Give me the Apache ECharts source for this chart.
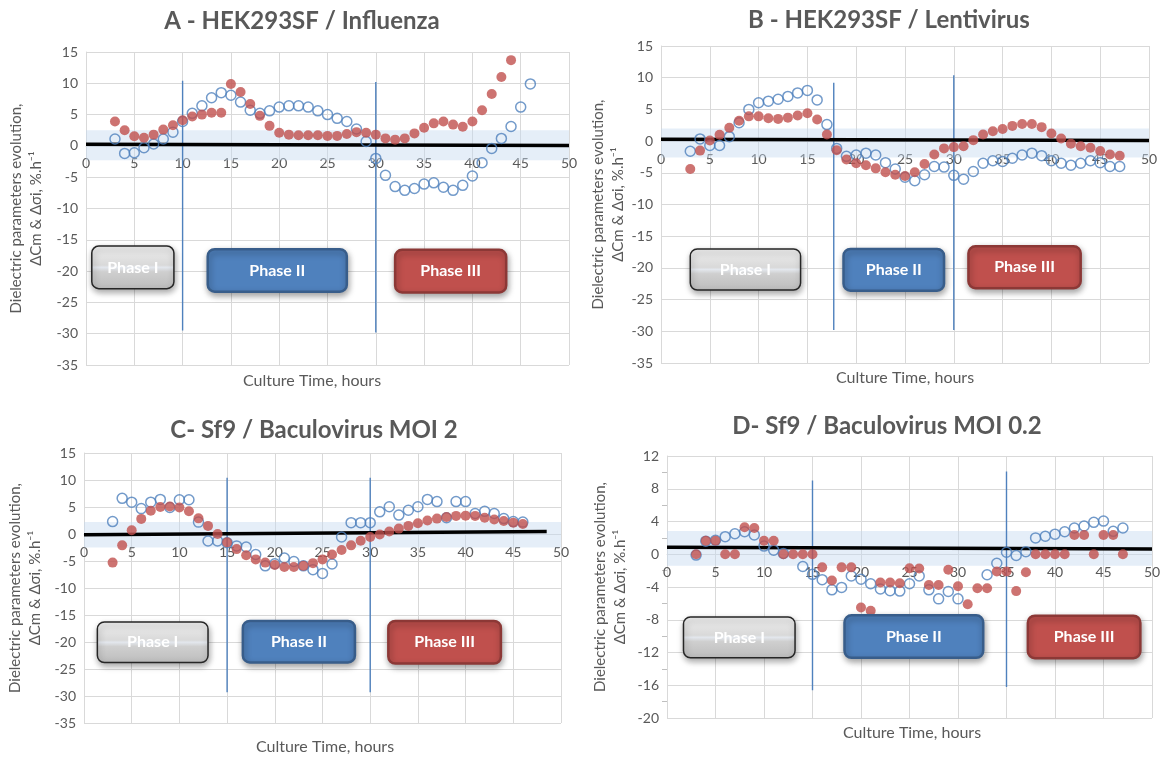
<!DOCTYPE html>
<html>
<head>
<meta charset="utf-8">
<script src="https://cdn.jsdelivr.net/npm/echarts@6/dist/echarts.min.js"></script>
<style>
  html, body { margin: 0; background: #fff; }
  #chart { width: 1166px; height: 759px; }
</style>
</head>
<body>
<div id="chart"></div>
<script>
// culture time, hours (shared x values for every series)
var hours = [3,4,5,6,7,8,9,10,11,12,13,14,15,16,17,18,19,20,21,22,23,24,25,26,27,28,29,30,31,32,33,34,35,36,37,38,39,40,41,42,43,44,45,46,47];

// A - HEK293SF / Influenza
var cmA = [3.9,2.5,1.55,1.3,1.8,2.6,3.3,4.1,4.7,5.0,5.3,5.3,9.9,8.6,6.7,4.8,3.2,2.1,1.8,1.7,1.7,1.7,1.6,1.6,1.9,2.2,2.1,1.8,1.2,1.0,1.2,2.0,2.9,3.6,3.9,3.4,3.05,3.9,5.7,8.3,11.0,13.7,null,null,null];
var siA = [1.1,-1.2,-1.1,-0.3,0.3,1.1,2.2,3.9,5.2,6.4,7.7,8.5,8.1,7.0,5.7,5.2,5.6,6.2,6.4,6.4,6.2,5.6,5.0,4.4,3.9,2.7,0.7,-2.0,-4.7,-6.5,-7.1,-6.8,-6.1,-5.9,-6.6,-7.1,-6.3,-4.8,-2.7,-0.4,1.2,3.1,6.2,9.9,null];
var trendA = [[0, 0.25], [50, 0.05]];
var bandA = [-2.3, 2.5];
var phaseLinesA = [[10, 10.4, -29.5], [30, 10.2, -29.8]];

// B - HEK293SF / Lentivirus
var cmB = [-4.4,-1.5,0.1,1.0,2.1,3.2,3.9,3.9,3.6,3.5,3.7,4.05,4.4,3.4,1.05,-1.45,-2.9,-3.5,-3.8,-4.3,-4.9,-5.3,-5.5,-4.9,-3.6,-2.1,-1.15,-0.95,-0.8,0.15,1.05,1.55,1.9,2.4,2.7,2.7,2.2,1.2,0.4,-0.4,-0.8,-1.05,-1.55,-2.1,-2.3];
var siB = [-1.6,0.35,-0.7,-0.7,0.7,2.9,5.0,6.05,6.3,6.6,7.05,7.6,8.0,6.5,2.6,-1.15,-2.4,-2.2,-1.9,-2.2,-3.4,-4.4,-5.7,-6.25,-5.3,-4.0,-4.1,-5.4,-6.0,-4.8,-3.5,-3.1,-3.2,-2.7,-2.2,-1.9,-2.3,-3.1,-3.5,-3.8,-3.5,-3.1,-3.4,-4.0,-4.0];
var trendB = [[0, 0.3], [50, 0.1]];
var bandB = [-2.6, 2.0];
var phaseLinesB = [[17.7, 9.2, -29.8], [30, 10.4, -29.8]];

// C - Sf9 / Baculovirus MOI 2
var cmC = [-5.3,-2.1,0.7,2.8,4.3,5.0,5.1,4.9,4.2,2.9,1.5,0,-1.55,-2.8,-3.95,-4.7,-5.3,-5.75,-6.1,-6.1,-5.9,-5.4,-4.7,-3.8,-2.95,-2.1,-1.25,-0.55,-0.1,0.45,1.0,1.5,2.0,2.5,2.85,3.15,3.35,3.4,3.35,3.0,2.7,2.4,2.1,1.85,null];
var siC = [2.3,6.6,5.9,4.7,5.9,6.4,4.9,6.35,6.35,2.2,-1.3,-1.3,-1.6,-2.2,-2.4,-3.8,-5.9,-5.5,-4.45,-5.1,-5.9,-6.6,-7.3,-5.55,-0.55,2.1,2.1,2.1,4.1,5.05,3.5,4.4,5.05,6.4,6.0,3.0,6.0,6.0,3.8,4.2,3.8,2.85,2.3,2.2,null];
var trendC = [[0, -0.15], [48.5, 0.45]];
var bandC = [-2.5, 2.2];
var phaseLinesC = [[15, 10.4, -29.3], [30, 10.4, -29.3]];

// D - Sf9 / Baculovirus MOI 0.2
var cmD = [0,1.65,1.65,0,0,3.3,3.2,1.65,1.65,0,0,0,0,-1.6,-3.2,-1.6,-1.6,-6.5,-6.9,-3.45,-3.45,-3.55,-1.7,-1.75,-3.75,-3.75,-1.9,-3.9,-6.1,-4.15,-4.15,-2.1,-2.1,-4.5,-2.2,0,0,0,0,2.35,2.35,0,2.35,2.35,0];
var siD = [-0.1,1.6,1.7,2.15,2.5,2.75,2.35,1.0,0.5,0.1,null,-1.5,-2.45,-3.1,-4.35,-4.05,-2.65,-3.05,-3.6,-4.25,-4.45,-4.5,-3.6,-2.65,-4.35,-5.45,-4.55,-5.45,null,null,-2.5,-1.1,0.25,-0.15,0.3,2.0,2.2,2.45,2.75,3.2,3.45,3.9,4.05,2.8,3.2];
var trendD = [[0, 0.85], [50, 0.65]];
var bandD = [-1.4, 2.85];
var phaseLinesD = [[15, 9.0, -16.6], [35, 10.1, -16.2]];

var phaseNames = ['Phase I', 'Phase II', 'Phase III'];

// layout of the four panels (pixels) and the phase boxes (in axis units)
var panels = [
  { title: 'A - HEK293SF / Influenza', tx: 302, ty: 21, grid: {left: 86, top: 52, width: 483, height: 313},
    y: [-35, 15, 5], cm: cmA, si: siA, trend: trendA, band: bandA, vlines: phaseLinesA,
    xname: [312, 381], gap: 40,
    boxes: [[0.6, -16.0, 9.1, -22.8], [12.6, -16.5, 27.0, -23.3], [32.0, -16.6, 43.5, -23.4]] },
  { title: 'B - HEK293SF / Lentivirus', tx: 889, ty: 20, grid: {left: 661, top: 46, width: 488, height: 317},
    y: [-35, 15, 5], cm: cmB, si: siB, trend: trendB, band: bandB, vlines: phaseLinesB,
    xname: [905, 378], gap: 32,
    boxes: [[3.0, -17.0, 14.3, -23.5], [18.7, -17.0, 29.0, -23.6], [31.5, -16.6, 43.0, -23.2]] },
  { title: 'C- Sf9 / Baculovirus MOI 2', tx: 314, ty: 430, grid: {left: 84, top: 453, width: 477, height: 270},
    y: [-35, 15, 5], cm: cmC, si: siC, trend: trendC, band: bandC, vlines: phaseLinesC,
    xname: [325, 747], gap: 39,
    boxes: [[1.4, -16.3, 13.0, -23.8], [16.65, -16.1, 28.4, -23.8], [31.9, -16.1, 43.7, -24.0]] },
  { title: 'D- Sf9 / Baculovirus MOI 0.2', tx: 887, ty: 426, grid: {left: 667, top: 456, width: 485, height: 262},
    y: [-20, 12, 4], cm: cmD, si: siD, trend: trendD, band: bandD, vlines: phaseLinesD,
    xname: [912, 733], gap: 37, minor: true,
    boxes: [[1.7, -7.65, 13.2, -12.65], [18.3, -7.45, 32.6, -12.65], [37.2, -7.5, 48.8, -12.7]] }
];

var textColor = '#595959';
var gridColor = '#d9d9d9';
var font = 'Lato, "Open Sans", sans-serif';

function points(vals) {
  var out = [];
  hours.forEach(function (h, i) {
    if (vals[i] !== null && vals[i] !== undefined) out.push([h, vals[i]]);
  });
  return out;
}

var option = {
  animation: false,
  grid: [], xAxis: [], yAxis: [], series: []
};

panels.forEach(function (p, i) {
  option.grid.push(p.grid);
  // the x axis crosses the y axis at 0: lift it from the bottom of the grid
  var lift = (0 - p.y[0]) / (p.y[1] - p.y[0]) * p.grid.height;
  option.xAxis.push({
    type: 'value', gridIndex: i, min: 0, max: 50, interval: 5,
    position: 'bottom', offset: -lift,
    axisLine: { onZero: false, lineStyle: { color: gridColor } },
    axisTick: { show: false },
    axisLabel: { color: textColor, fontSize: 14, fontFamily: font, margin: 11 },
    splitLine: { lineStyle: { color: gridColor } }
  });
  option.yAxis.push({
    type: 'value', gridIndex: i, min: p.y[0], max: p.y[1], interval: p.y[2],
    name: 'Dielectric parameters evolution,\nΔCm & Δσi, %.h⁻¹',
    nameLocation: 'middle', nameGap: p.gap,
    nameTextStyle: { color: textColor, fontSize: 15, fontFamily: font, lineHeight: 20 },
    axisLine: { show: true, onZero: false, lineStyle: { color: gridColor } },
    axisTick: { show: false },
    minorTick: { show: !!p.minor, splitNumber: 2, length: 5, lineStyle: { color: '#bfbfbf' } },
    axisLabel: { color: textColor, fontSize: 14, fontFamily: font, margin: 8 },
    splitLine: { lineStyle: { color: gridColor } }
  });
  // linear trend with its tolerance band
  option.series.push({
    type: 'line', xAxisIndex: i, yAxisIndex: i, data: p.trend, symbol: 'none', z: 3,
    lineStyle: { color: '#000', width: 3.5 },
    markArea: {
      silent: true,
      itemStyle: { color: 'rgba(198,217,240,0.45)' },
      data: [[{ coord: [0, p.band[0]] }, { coord: [50, p.band[1]] }]]
    }
  });
  p.vlines.forEach(function (v) {
    option.series.push({
      type: 'line', xAxisIndex: i, yAxisIndex: i, symbol: 'none', z: 2,
      data: [[v[0], v[1]], [v[0], v[2]]],
      lineStyle: { color: '#4f81bd', width: 1.4 }
    });
  });
  option.series.push({
    name: 'Δσi', type: 'scatter', xAxisIndex: i, yAxisIndex: i, data: points(p.si),
    symbol: 'circle', symbolSize: 10, z: 4,
    itemStyle: { color: 'rgba(255,255,255,0)', borderColor: '#4f81bd', borderWidth: 1.5 }
  });
  option.series.push({
    name: 'ΔCm', type: 'scatter', xAxisIndex: i, yAxisIndex: i, data: points(p.cm),
    symbol: 'circle', symbolSize: 10, z: 5,
    itemStyle: { color: '#c0504d' }
  });
});

var chart = echarts.init(document.getElementById('chart'));
chart.setOption(option);

// titles, x-axis captions and phase boxes
var grayFill = new echarts.graphic.LinearGradient(0, 0, 0, 1, [
  { offset: 0, color: '#efefef' }, { offset: 0.45, color: '#d9d9d9' },
  { offset: 0.5, color: '#e3e7ed' }, { offset: 0.6, color: '#cfcfcf' },
  { offset: 1, color: '#bcbcbc' }
]);
var boxStyles = [
  { fill: grayFill, stroke: '#262626', lineWidth: 1.5 },
  { fill: '#4f81bd', stroke: '#385d8a', lineWidth: 2.5 },
  { fill: '#c0504d', stroke: '#8c3836', lineWidth: 2.5 }
];

var graphics = [];
panels.forEach(function (p, i) {
  graphics.push({
    type: 'text', x: p.tx, y: p.ty, z: 20,
    style: { text: p.title, fill: textColor, font: 'bold 24px ' + font, align: 'center', verticalAlign: 'middle' }
  });
  graphics.push({
    type: 'text', x: p.xname[0], y: p.xname[1], z: 20,
    style: { text: 'Culture Time, hours', fill: textColor, font: '16px ' + font, align: 'center', verticalAlign: 'middle' }
  });
  p.boxes.forEach(function (b, k) {
    var a = chart.convertToPixel({ gridIndex: i }, [b[0], b[1]]);
    var c = chart.convertToPixel({ gridIndex: i }, [b[2], b[3]]);
    var st = boxStyles[k];
    graphics.push({
      type: 'rect', z: 10,
      shape: { x: a[0], y: a[1], width: c[0] - a[0], height: c[1] - a[1], r: 7 },
      style: {
        fill: st.fill, stroke: st.stroke, lineWidth: st.lineWidth,
        shadowBlur: 6, shadowOffsetX: 1, shadowOffsetY: 3, shadowColor: 'rgba(0,0,0,0.35)'
      }
    });
    graphics.push({
      type: 'text', z: 11, x: (a[0] + c[0]) / 2, y: (a[1] + c[1]) / 2,
      style: { text: phaseNames[k], fill: '#fff', font: 'bold 16px ' + font, align: 'center', verticalAlign: 'middle' }
    });
  });
});
chart.setOption({ graphic: graphics });
</script>
</body>
</html>
